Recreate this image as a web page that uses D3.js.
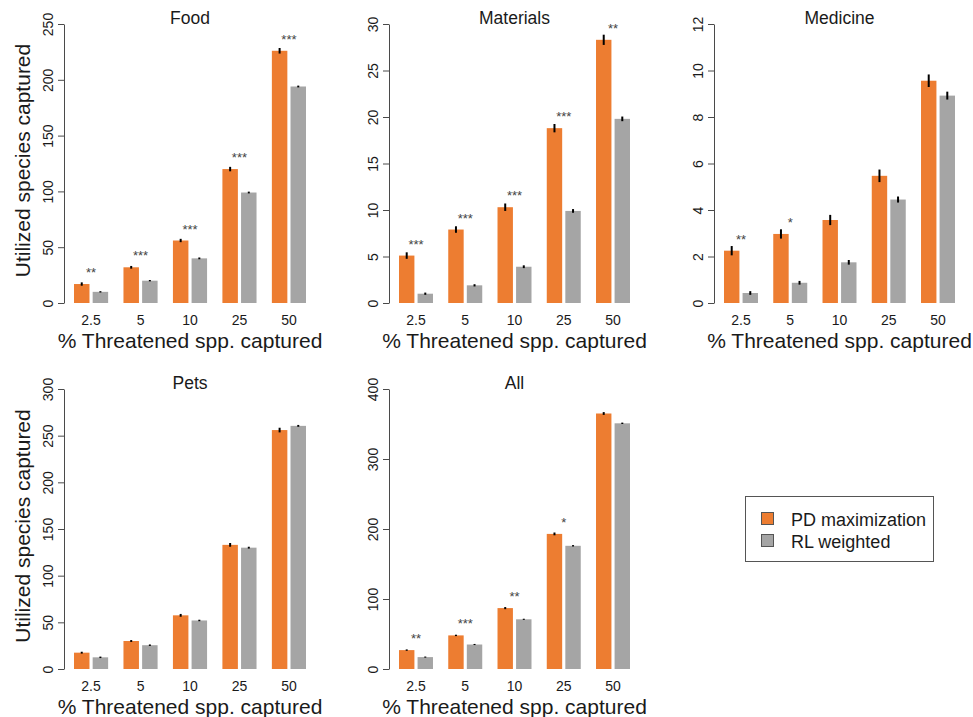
<!DOCTYPE html>
<html>
<head>
<meta charset="utf-8">
<script src="https://cdn.jsdelivr.net/npm/d3@7"></script>
<style>
  html, body { margin: 0; padding: 0; background: #fff; }
  svg { display: block; font-family: "Liberation Sans", Arial, Helvetica, sans-serif; }
</style>
</head>
<body>
<svg id="chart" width="973" height="717"></svg>
<script>
// ---------------- DATA ----------------
const categories = ["2.5", "5", "10", "25", "50"];
const seriesNames = ["PD maximization", "RL weighted"];
const panelNames = ["Food", "Materials", "Medicine", "Pets", "All"];

const foodPD = [17, 32, 56, 120, 226];
const foodRL = [10, 20, 40, 99, 194];
const foodPDerr = [1.5, 1.2, 1.5, 2, 2.5];
const foodRLerr = [0.6, 0.6, 0.8, 0.8, 0.8];
const foodSig = ["**", "***", "***", "***", "***"];
const foodTicks = [0, 50, 100, 150, 200, 250];

const materialsPD = [5.1, 7.9, 10.3, 18.8, 28.3];
const materialsRL = [1.0, 1.9, 3.9, 9.9, 19.8];
const materialsPDerr = [0.35, 0.35, 0.4, 0.45, 0.55];
const materialsRLerr = [0.12, 0.12, 0.15, 0.2, 0.25];
const materialsSig = ["***", "***", "***", "***", "**"];
const materialsTicks = [0, 5, 10, 15, 20, 25, 30];

const medicinePD = [2.25, 2.97, 3.57, 5.47, 9.56];
const medicineRL = [0.43, 0.87, 1.75, 4.45, 8.92];
const medicinePDerr = [0.2, 0.2, 0.22, 0.27, 0.27];
const medicineRLerr = [0.08, 0.08, 0.1, 0.13, 0.17];
const medicineSig = ["**", "*", "", "", ""];
const medicineTicks = [0, 2, 4, 6, 8, 10, 12];

const petsPD = [17.5, 30, 57.5, 133, 256];
const petsRL = [12.5, 25.5, 52, 130, 260.5];
const petsPDerr = [1, 1, 1.5, 2, 2.5];
const petsRLerr = [0.8, 0.8, 0.8, 1, 1];
const petsSig = ["", "", "", "", ""];
const petsTicks = [0, 50, 100, 150, 200, 250, 300];

const allPD = [27, 48, 87, 193, 365];
const allRL = [17, 35, 71, 176, 351];
const allPDerr = [1, 1, 1.5, 2, 2];
const allRLerr = [0.8, 0.8, 0.8, 1, 1];
const allSig = ["**", "***", "**", "*", ""];
const allTicks = [0, 100, 200, 300, 400];

const panelData = {
  Food:      { pd: foodPD, rl: foodRL, pdErr: foodPDerr, rlErr: foodRLerr, sig: foodSig, ticks: foodTicks },
  Materials: { pd: materialsPD, rl: materialsRL, pdErr: materialsPDerr, rlErr: materialsRLerr, sig: materialsSig, ticks: materialsTicks },
  Medicine:  { pd: medicinePD, rl: medicineRL, pdErr: medicinePDerr, rlErr: medicineRLerr, sig: medicineSig, ticks: medicineTicks },
  Pets:      { pd: petsPD, rl: petsRL, pdErr: petsPDerr, rlErr: petsRLerr, sig: petsSig, ticks: petsTicks },
  All:       { pd: allPD, rl: allRL, pdErr: allPDerr, rlErr: allRLerr, sig: allSig, ticks: allTicks }
};

// ---------------- LAYOUT / STYLE ----------------
const layout = {
  Food:      { axisX: 64,  x0: 74,  x1: 306, y0: 303, y1: 24,  ylab: true },
  Materials: { axisX: 389, x0: 399, x1: 630, y0: 303, y1: 24,  ylab: false },
  Medicine:  { axisX: 714, x0: 724, x1: 955, y0: 303, y1: 24,  ylab: false },
  Pets:      { axisX: 64,  x0: 74,  x1: 306, y0: 669, y1: 389, ylab: true },
  All:       { axisX: 389, x0: 399, x1: 630, y0: 669, y1: 389, ylab: false }
};
const colors = { "PD maximization": "#ED7D31", "RL weighted": "#A5A5A5" };
const axisColor = "#4a4a4a";
const textColor = "#1a1a1a";

const svg = d3.select("#chart");

panelNames.forEach(name => {
  const d = panelData[name];
  const L = layout[name];
  const g = svg.append("g");

  const x = d3.scaleBand().domain(categories).range([L.x0, L.x1]).paddingInner(0.31).paddingOuter(0);
  const xs = d3.scaleBand().domain(seriesNames).range([0, x.bandwidth()]).paddingInner(0.17).paddingOuter(0);
  const y = d3.scaleLinear().domain([0, d3.max(d.ticks)]).range([L.y0, L.y1]);

  const rows = [];
  categories.forEach((c, i) => {
    rows.push({ cat: c, s: seriesNames[0], v: d.pd[i], e: d.pdErr[i] });
    rows.push({ cat: c, s: seriesNames[1], v: d.rl[i], e: d.rlErr[i] });
  });

  // bars
  g.selectAll("rect.bar").data(rows).join("rect")
    .attr("class", "bar")
    .attr("x", r => x(r.cat) + xs(r.s))
    .attr("width", xs.bandwidth())
    .attr("y", r => y(r.v))
    .attr("height", r => y(0) - y(r.v))
    .attr("fill", r => colors[r.s]);

  // error bars
  g.selectAll("line.err").data(rows).join("line")
    .attr("class", "err")
    .attr("x1", r => x(r.cat) + xs(r.s) + xs.bandwidth() / 2)
    .attr("x2", r => x(r.cat) + xs(r.s) + xs.bandwidth() / 2)
    .attr("y1", r => y(r.v - r.e))
    .attr("y2", r => y(r.v + r.e))
    .attr("stroke", "#000")
    .attr("stroke-width", 2);

  // significance stars
  g.selectAll("text.sig").data(categories).join("text")
    .attr("class", "sig")
    .attr("x", c => x(c) + x.bandwidth() / 2)
    .attr("y", (c, i) => y(Math.max(d.pd[i], d.rl[i])) - 7)
    .attr("text-anchor", "middle")
    .attr("font-size", 13)
    .attr("fill", "#444")
    .text((c, i) => d.sig[i]);

  // y axis
  const ya = g.append("g")
    .attr("transform", `translate(${L.axisX},0)`)
    .call(d3.axisLeft(y).tickValues(d.ticks).tickSize(6).tickSizeOuter(0).tickFormat(d3.format("d")));
  ya.select(".domain").attr("stroke", axisColor);
  ya.selectAll(".tick line").attr("stroke", axisColor);
  ya.selectAll(".tick text")
    .attr("x", null).attr("dy", null)
    .attr("transform", "translate(-11,0) rotate(-90)")
    .attr("text-anchor", "middle")
    .attr("font-size", 14)
    .attr("font-family", "Liberation Sans, Arial, sans-serif")
    .attr("fill", textColor);

  // x category labels
  g.selectAll("text.xl").data(categories).join("text")
    .attr("class", "xl")
    .attr("x", c => x(c) + x.bandwidth() / 2)
    .attr("y", L.y0 + 22)
    .attr("text-anchor", "middle")
    .attr("font-size", 14)
    .attr("fill", textColor)
    .text(c => c);

  const cx = (L.x0 + L.x1) / 2;
  // title
  g.append("text")
    .attr("x", cx).attr("y", L.y1 + 0)
    .attr("text-anchor", "middle")
    .attr("font-size", 17.5)
    .attr("fill", textColor)
    .text(name);

  // x axis title
  g.append("text")
    .attr("x", cx).attr("y", L.y0 + 45)
    .attr("text-anchor", "middle")
    .attr("font-size", 21)
    .attr("fill", textColor)
    .text("% Threatened spp. captured");

  if (L.ylab) {
    g.append("text")
      .attr("transform", `translate(29.5,${(L.y0 + L.y1) / 2 - 3}) rotate(-90)`)
      .attr("text-anchor", "middle")
      .attr("font-size", 21)
      .attr("fill", textColor)
      .text("Utilized species captured");
  }
});

// legend
const lg = svg.append("g");
lg.append("rect")
  .attr("x", 745.5).attr("y", 496.5).attr("width", 188).attr("height", 65)
  .attr("fill", "#fff").attr("stroke", "#555").attr("stroke-width", 1);
const ly = d3.scalePoint().domain(seriesNames).range([519, 541]);
lg.selectAll("rect.sw").data(seriesNames).join("rect")
  .attr("class", "sw")
  .attr("x", 761.5).attr("y", s => ly(s) - 6.5)
  .attr("width", 12).attr("height", 12)
  .attr("fill", s => colors[s]).attr("stroke", "#555").attr("stroke-width", 1);
lg.selectAll("text.lt").data(seriesNames).join("text")
  .attr("class", "lt")
  .attr("x", 791).attr("y", s => ly(s) + 6.5)
  .attr("font-size", 18)
  .attr("fill", textColor)
  .text(s => s);
</script>
</body>
</html>
